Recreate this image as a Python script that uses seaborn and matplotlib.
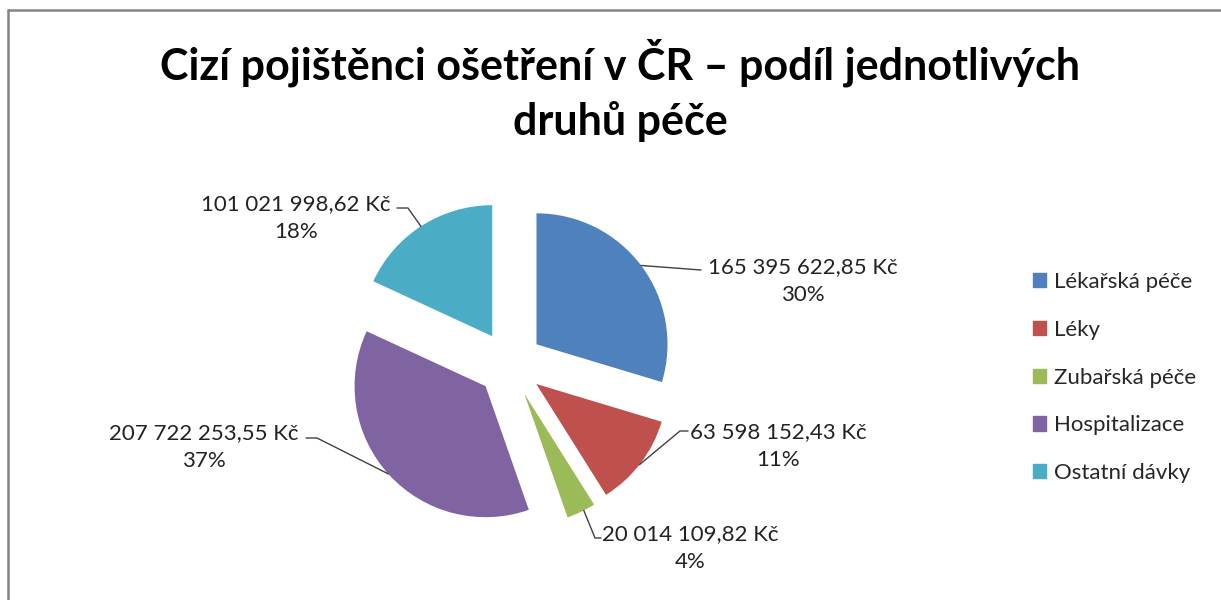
import numpy as np
import matplotlib
matplotlib.use('Agg')
import matplotlib.pyplot as plt
from matplotlib.lines import Line2D
import seaborn as sns

# data
categories = ['Lékařská péče', 'Léky', 'Zubařská péče', 'Hospitalizace', 'Ostatní dávky']
amounts = [165395622.85, 63598152.43, 20014109.82, 207722253.55, 101021998.62]
colors = ['#4F81BD', '#C0504D', '#9BBB59', '#8064A2', '#4BACC6']
title = 'Cizí pojištěnci ošetření v ČR – podíl jednotlivých\ndruhů péče'


def fmt_kc(v):
    s = f'{v:,.2f}'.replace(',', ' ').replace('.', ',')
    return s + ' Kč'


sns.set_theme(style='white')
plt.rcParams['font.family'] = ['Lato', 'DejaVu Sans']

W, H = 1221, 600
fig = plt.figure(figsize=(W / 100, H / 100), dpi=100)
ax = fig.add_axes([0, 0, 1, 1])

pal = sns.color_palette(colors)
cx, cy, r = 510, H - 364, 131
wedges, _ = ax.pie(amounts, colors=pal, startangle=90, counterclock=False,
                   center=(cx, cy), radius=r, explode=[33] * 5,
                   wedgeprops=dict(linewidth=0))
ax.set_xlim(0, W)
ax.set_ylim(0, H)
ax.set_aspect('equal')
ax.axis('off')

total = sum(amounts)
# anchor angle on the arc, leader polyline (image px), label center (image px)
leaders = [
    (37, [(701, 270)], (803, 281)),
    (-38, [(680, 431), (688, 431)], (778, 446)),
    (-63, [(595, 538), (601, 538)], (690, 548)),
    (-138, [(317, 438), (306, 438)], (204, 447)),
    (123, [(408, 208), (397, 208)], (296, 218)),
]
for w, v, (ang, pts, (lx, ly)) in zip(wedges, amounts, leaders):
    wx, wy = w.center
    a = np.deg2rad(ang)
    xs = [wx + r * np.cos(a)] + [p[0] for p in pts]
    ys = [wy + r * np.sin(a)] + [H - p[1] for p in pts]
    ax.plot(xs, ys, color='#404040', lw=1)
    pct = round(v / total * 100)
    ax.text(lx, H - ly, f'{fmt_kc(v)}\n{pct}%', ha='center', va='center',
            multialignment='center', fontsize=16, linespacing=1.55, color='#222222')

fig.text(620 / W, 1 - 90 / H, title, ha='center', va='center', fontsize=31,
         fontweight='bold', linespacing=1.4, color='black')

handles = [plt.Rectangle((0, 0), 1, 1, color=c) for c in pal]
fig.legend(handles, categories, loc='upper left',
           bbox_to_anchor=(1033 / W, 1 - 272 / H), frameon=False,
           fontsize=16, handlelength=0.6, handleheight=0.6,
           handletextpad=0.35, labelspacing=1.25, borderpad=0, borderaxespad=0)

# chart border (top and left edges visible)
fig.add_artist(Line2D([8 / W, 1], [1 - 10 / H, 1 - 10 / H], color='#858585', lw=1.8))
fig.add_artist(Line2D([8 / W, 8 / W], [0, 1 - 10 / H], color='#858585', lw=1.8))

fig.savefig('out.png', dpi=100)
